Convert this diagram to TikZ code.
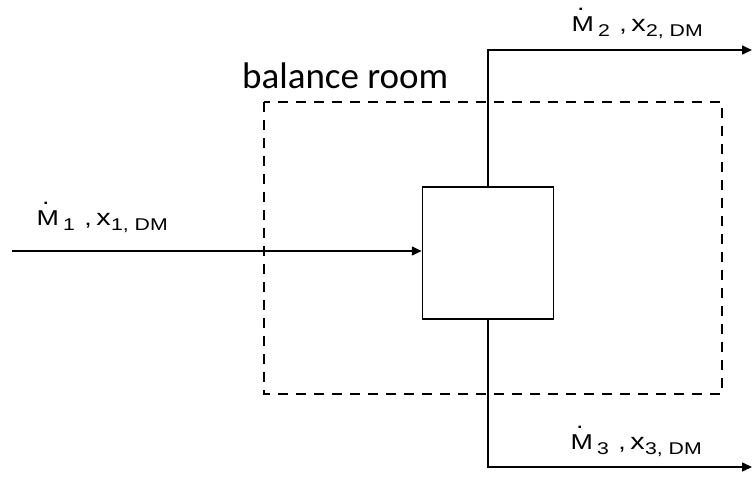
\documentclass[tikz,border=0pt]{standalone}
\usepackage{fontspec}
\setmainfont{Liberation Sans}
\newfontfamily\calfont{Carlito}
\usetikzlibrary{arrows.meta}
\newcommand{\lblsub}[1]{\raisebox{-5pt}{\fontsize{17}{17}\selectfont #1}}
\newcommand{\Mdotted}{\rlap{\smash{\kern4.3pt\raisebox{21pt}{.}}}M}
\newcommand{\flowlabel}[2]{\scalebox{1.25}[1]{\Mdotted\kern3.3pt\lblsub{#1}\ \kern1.5pt,\kern3.6pt{\fontsize{23}{23}\selectfont x}\kern0.3pt\lblsub{#2}}}
\tikzset{
  flow/.style={line width=1.5pt, -{Triangle[length=10pt,width=9pt]}},
  blk/.style={draw, line width=1.5pt, minimum width=131pt, minimum height=132pt, inner sep=0pt},
  room/.style={draw, line width=1.3pt, dash pattern=on 10pt off 8pt},
  lbl/.style={anchor=base west, inner sep=0pt, font=\fontsize{21.5}{21.5}\selectfont},
  roomlbl/.style={anchor=base west, inner sep=0pt, font=\calfont\fontsize{37}{37}\selectfont}
}
\begin{document}
\begin{tikzpicture}[x=1pt,y=-1pt]
\useasboundingbox (0,0) rectangle (752,479);
% balance room
\draw[room] (264,102) rectangle (722,394);
\node[roomlbl] (roomtext) at (242,88) {balance room};
% block
\node[blk] (box) at (488,253) {};
% connectors
\coordinate (in) at (12,251);
\coordinate (out2) at (752,50);
\coordinate (out3) at (752,467);
\draw[flow] (in) -- (in -| box.west);
\draw[flow] (box.north) -- (box.north |- out2) -- (out2);
\draw[flow] (box.south) -- (box.south |- out3) -- (out3);
% labels
\node[lbl] (l1) at (36.5,225) {\flowlabel{1}{1, DM}};
\node[lbl] (l2) at (571.5,31.5) {\flowlabel{2}{2, DM}};
\node[lbl] (l3) at (570.5,449) {\flowlabel{3}{3, DM}};
\end{tikzpicture}
\end{document}
